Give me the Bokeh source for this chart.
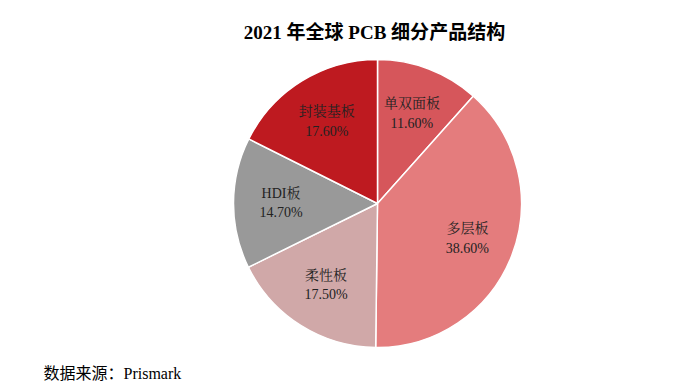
import math
from bokeh.plotting import figure
from bokeh.models import ColumnDataSource, Label
from bokeh.core.properties import value
from bokeh.embed import file_html
from bokeh.resources import INLINE

categories = ["单双面板", "多层板", "柔性板", "HDI板", "封装基板"]
shares = [11.6, 38.6, 17.5, 14.7, 17.6]
colors = ["#D6565B", "#E47C7D", "#D0A8A8", "#999999", "#BE1A20"]
title_text = "2021 年全球 PCB 细分产品结构"
source_text = "数据来源：Prismark"

W, H = 682, 384
cx, cy, R = 377, 181, 144
label_r = 0.67 * R

total = sum(shares)
starts, ends, lx, ly, labels = [], [], [], [], []
cum = 0.0
for c, s in zip(categories, shares):
    a0 = math.pi / 2 - 2 * math.pi * cum / total
    a1 = math.pi / 2 - 2 * math.pi * (cum + s) / total
    starts.append(a1)
    ends.append(a0)
    mid = (a0 + a1) / 2
    lx.append(cx + label_r * math.cos(mid))
    ly.append(cy + label_r * math.sin(mid))
    labels.append(f"{c}\n{s:.2f}%")
    cum += s

src = ColumnDataSource(dict(start=starts, end=ends, color=colors,
                            lx=lx, ly=ly, label=labels))

p = figure(width=W, height=H, x_range=(0, W), y_range=(0, H),
           output_backend="svg", toolbar_location=None, min_border=0)
p.axis.visible = False
p.grid.visible = False
p.outline_line_color = None
p.background_fill_color = "white"

p.wedge(x=cx, y=cy, radius=R, start_angle="start", end_angle="end",
        fill_color="color", line_color="white", line_width=1.5, source=src)

font = value("'Liberation Serif', 'Noto Serif CJK SC', 'Noto Sans CJK SC', serif")
p.text(x="lx", y="ly", text="label", source=src, text_align="center",
       text_baseline="middle", text_font=font, text_font_size="14px",
       text_color="#222222", text_line_height=1.3)

p.add_layout(Label(x=374, y=H - 32, x_units="screen", y_units="screen",
                   text=title_text, text_align="center", text_baseline="middle",
                   text_font="'Liberation Serif', 'Noto Sans CJK SC', serif",
                   text_font_size="19px", text_font_style="bold",
                   text_color="#000000"))
p.add_layout(Label(x=43, y=3, x_units="screen", y_units="screen",
                   text=source_text, text_align="left", text_baseline="bottom",
                   text_font="'Liberation Serif', 'Noto Sans CJK SC', serif",
                   text_font_size="16px", text_color="#000000"))

open("out.html", "w").write(file_html(p, INLINE))
